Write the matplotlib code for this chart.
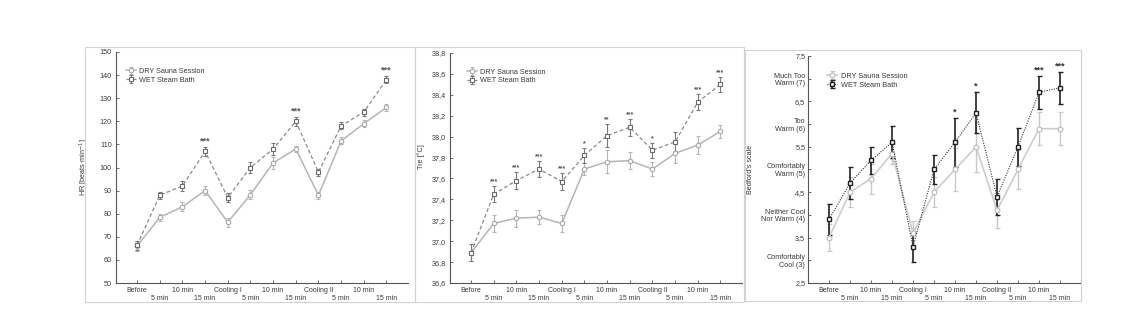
import matplotlib
matplotlib.use("Agg")
import matplotlib.pyplot as plt
from matplotlib.patches import Rectangle
from matplotlib.ticker import FuncFormatter

plt.rcParams['font.family'] = ['Liberation Sans', 'DejaVu Sans']

# ---------------- data ----------------
time_labels = ["Before", "5 min", "10 min", "15 min", "Cooling I", "5 min",
               "10 min", "15 min", "Cooling II", "5 min", "10 min", "15 min"]
series_names = ["DRY Sauna Session", "WET Steam Bath"]

hr_dry = [66, 78.4, 83, 90, 76.3, 88.2, 102, 108, 88, 111.5, 119, 126]
hr_dry_err = [2, 1.5, 2, 2, 2, 2, 2.5, 1.5, 1.5, 1.5, 1.5, 1.5]
hr_wet = [66.3, 88, 92, 107, 87, 100, 108, 120, 98, 118, 124, 138]
hr_wet_err = [2, 1.5, 2, 2, 2, 2.5, 2.5, 2, 1.5, 1.5, 1.5, 1.5]
hr_stars = ["", "", "", "***", "", "", "", "***", "", "", "", "***"]

tre_dry = [36.89, 37.17, 37.22, 37.23, 37.17, 37.69, 37.76, 37.77, 37.69, 37.84, 37.92, 38.05]
tre_dry_err = [0.08, 0.08, 0.08, 0.07, 0.08, 0.06, 0.11, 0.08, 0.07, 0.09, 0.09, 0.06]
tre_wet = [36.89, 37.45, 37.58, 37.69, 37.57, 37.82, 38.01, 38.09, 37.87, 37.95, 38.33, 38.50]
tre_wet_err = [0.08, 0.08, 0.08, 0.08, 0.08, 0.07, 0.11, 0.08, 0.07, 0.09, 0.08, 0.07]
tre_stars = ["", "***", "***", "***", "***", "*", "**", "***", "*", "", "***", "***"]

bed_dry = [3.5, 4.5, 4.8, 5.35, 3.6, 4.5, 5.0, 5.5, 4.1, 5.0, 5.9, 5.9]
bed_dry_err = [0.3, 0.33, 0.33, 0.23, 0.27, 0.33, 0.48, 0.55, 0.39, 0.44, 0.37, 0.37]
bed_wet = [3.9, 4.7, 5.2, 5.6, 3.3, 5.0, 5.6, 6.25, 4.4, 5.5, 6.7, 6.8]
bed_wet_err = [0.35, 0.35, 0.3, 0.35, 0.33, 0.33, 0.54, 0.45, 0.4, 0.42, 0.36, 0.35]
bed_stars = ["", "", "", "", "", "", "*", "*", "", "", "***", "***"]

hr_ticks = [50, 60, 70, 80, 90, 100, 110, 120, 130, 140, 150]
tre_ticks = [36.6, 36.8, 37.0, 37.2, 37.4, 37.6, 37.8, 38.0, 38.2, 38.4, 38.6, 38.8]
bed_ticks = [2.5, 3, 3.5, 4, 4.5, 5, 5.5, 6, 6.5, 7, 7.5]
bed_tick_labels = ["2,5", "Comfortably\nCool (3)", "3,5", "Neither Cool\nNor Warm (4)", "4,5",
                   "Comfortably\nWarm (5)", "5,5", "Too\nWarm (6)", "6,5", "Much Too\nWarm (7)", "7,5"]

# ---------------- layout ----------------
W, H = 1128, 334
fig = plt.figure(figsize=(W / 100, H / 100), dpi=100)
fig.patch.set_facecolor("white")

TXT = "#3a3a3a"
FS = 5.2
XFS = 5.0


def px_axes(l, t, r, b):
    return fig.add_axes([l / W, 1 - b / H, (r - l) / W, (b - t) / H])


def box(l, t, r, b):
    fig.patches.append(Rectangle((l / W, 1 - b / H), (r - l) / W, (b - t) / H,
                                 transform=fig.transFigure, fill=False,
                                 ec="#d2d2d2", lw=0.8))


box(85, 47, 415, 302)
box(415, 47, 744, 302)
box(745, 50, 1081, 301)

x = list(range(len(time_labels)))


def style_axes(ax, xlim):
    for s in ["top", "right"]:
        ax.spines[s].set_visible(False)
    for s in ["left", "bottom"]:
        ax.spines[s].set_color("#555555")
        ax.spines[s].set_linewidth(0.8)
    ax.set_xlim(*xlim)
    ax.set_xticks(x[0::2])
    ax.set_xticklabels(time_labels[0::2], fontsize=XFS, color=TXT)
    ax.set_xticks(x[1::2], minor=True)
    ax.set_xticklabels(time_labels[1::2], minor=True, fontsize=XFS, color=TXT)
    ax.tick_params(axis="both", which="both", direction="in", length=2, width=0.6,
                   colors="#555555", labelcolor=TXT)
    ax.tick_params(axis="y", labelsize=FS, pad=3)
    ax.tick_params(axis="x", which="major", labelsize=XFS, pad=3)
    ax.tick_params(axis="x", which="minor", labelsize=XFS, pad=8.8)


def draw_series(ax, dry, dry_err, wet, wet_err, dry_style, wet_style):
    h1 = ax.errorbar(x, dry, yerr=dry_err, **dry_style)
    h2 = ax.errorbar(x, wet, yerr=wet_err, **wet_style)
    return h1, h2


def add_stars(ax, wet, wet_err, stars, color, fs, off):
    for xi, v, e, s in zip(x, wet, wet_err, stars):
        if s:
            ax.annotate(s, (xi, v + e), xytext=(0, off), textcoords="offset points",
                        ha="center", va="bottom", fontsize=fs, color=color,
                        fontweight="bold")


gray_dry = dict(color="#b5b5b5", lw=1.1, ls="-", marker="o", ms=3.2, mfc="white",
                mec="#a8a8a8", mew=0.8, ecolor="#b5b5b5", elinewidth=0.8, capsize=1.6,
                capthick=0.8)
gray_wet = dict(color="#8a8a8a", lw=0.9, ls=(0, (3, 2)), marker="s", ms=3.2, mfc="white",
                mec="#6a6a6a", mew=0.8, ecolor="#7a7a7a", elinewidth=0.8, capsize=1.6,
                capthick=0.8)

# ---- Panel 1: HR ----
ax1 = px_axes(116, 52, 408, 283)
h1, h2 = draw_series(ax1, hr_dry, hr_dry_err, hr_wet, hr_wet_err, gray_dry, gray_wet)
style_axes(ax1, (-0.93, 11.95))
ax1.set_ylim(50, 150)
ax1.set_yticks(hr_ticks)
ax1.set_ylabel("HR [beats·min$^{-1}$]", fontsize=FS, color=TXT)
ax1.yaxis.set_label_coords(-0.085, 0.5)
add_stars(ax1, hr_wet, hr_wet_err, hr_stars, "#555555", 6.5, 1)
ax1.legend([h1, h2], series_names, loc="upper left", bbox_to_anchor=(0.025, 0.945),
           frameon=False, fontsize=FS, handlelength=1.3, handletextpad=0.5,
           labelspacing=0.25, borderaxespad=0, labelcolor=TXT)

# ---- Panel 2: Tre ----
ax2 = px_axes(450, 53, 742, 283)
h1, h2 = draw_series(ax2, tre_dry, tre_dry_err, tre_wet, tre_wet_err, gray_dry, gray_wet)
style_axes(ax2, (-0.93, 11.95))
ax2.set_ylim(36.6, 38.8)
ax2.set_yticks(tre_ticks)
ax2.yaxis.set_major_formatter(FuncFormatter(lambda v, p: f"{v:.1f}".replace(".", ",")))
ax2.set_ylabel("Tre [°C]", fontsize=FS, color=TXT)
ax2.yaxis.set_label_coords(-0.085, 0.55)
add_stars(ax2, tre_wet, tre_wet_err, tre_stars, "#555555", 5, 0.5)
ax2.legend([h1, h2], series_names, loc="upper left", bbox_to_anchor=(0.05, 0.945),
           frameon=False, fontsize=FS, handlelength=1.3, handletextpad=0.5,
           labelspacing=0.25, borderaxespad=0, labelcolor=TXT)

# ---- Panel 3: Bedford ----
bed_dry_style = dict(color="#cdcdcd", lw=1.2, ls="-", marker="o", ms=3.4, mfc="white",
                     mec="#c0c0c0", mew=0.9, ecolor="#c8c8c8", elinewidth=1.0, capsize=1.8,
                     capthick=0.9)
bed_wet_style = dict(color="#333333", lw=0.8, ls=(0, (1, 1.2)), marker="s", ms=3.4,
                     mfc="white", mec="#222222", mew=1.0, ecolor="#222222",
                     elinewidth=1.2, capsize=1.8, capthick=1.0)
ax3 = px_axes(808, 56, 1080, 283)
h1, h2 = draw_series(ax3, bed_dry, bed_dry_err, bed_wet, bed_wet_err, bed_dry_style, bed_wet_style)
style_axes(ax3, (-1.0, 11.95))
ax3.set_ylim(2.5, 7.5)
ax3.set_yticks(bed_ticks)
ax3.set_yticklabels(bed_tick_labels, fontsize=5.2, color=TXT, multialignment="right",
                    linespacing=1.1)
ax3.tick_params(axis="y", pad=2)
ax3.set_ylabel("Bedford's scale", fontsize=FS, color=TXT)
ax3.yaxis.set_label_coords(-0.2, 0.5)
add_stars(ax3, bed_wet, bed_wet_err, bed_stars, "#333333", 6.5, 1)
ax3.legend([h1, h2], series_names, loc="upper left", bbox_to_anchor=(0.06, 0.94),
           frameon=False, fontsize=5.3, handlelength=1.3, handletextpad=0.5,
           labelspacing=0.25, borderaxespad=0, labelcolor=TXT)

fig.savefig("out.png", dpi=100, facecolor="white")
